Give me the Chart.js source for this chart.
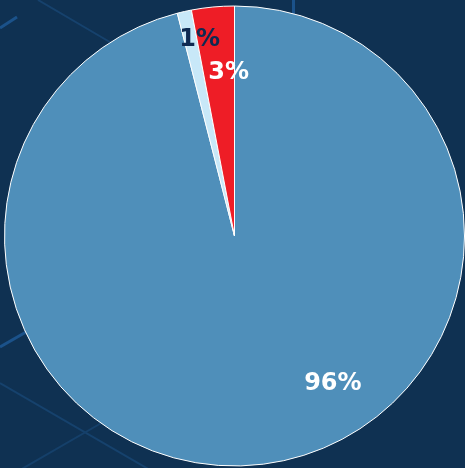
<!DOCTYPE html>
<html>
<head>
<meta charset="utf-8">
<script src="https://cdn.jsdelivr.net/npm/chart.js@4/dist/chart.umd.min.js"></script>
<style>
  html, body { margin: 0; padding: 0; background: #0f3152; }
  #wrap { width: 465px; height: 468px; }
</style>
</head>
<body>
<div id="wrap"><canvas id="pie_chart"></canvas></div>
<script>
const categories = ['Azul', 'Celeste', 'Rojo'];
const shares = [96, 1, 3];
const sliceColors = ['#4f8fba', '#c8e8f8', '#ee1d26'];
const labelColors = ['#ffffff', '#0f2a52', '#ffffff'];

// where each percentage sits: angle clockwise from 12 o'clock, and fraction of the radius
const labelSpots = [
    { angle: 146, dist: 0.765 },
    { angle: 350, dist: 0.875 },
    { angle: 358, dist: 0.72 }
];

// faint diagonal strokes behind the pie
const backdrop = {
    id: 'backdrop',
    beforeDraw(chart) {
        const c = chart.ctx;
        c.save();
        c.fillStyle = '#0f3152';
        c.fillRect(0, 0, chart.width, chart.height);
        c.lineCap = 'butt';
        const strokes = [
            { pts: [0, 28, 17, 17], color: '#1b528a', w: 3 },
            { pts: [38, 0, 120, 48], color: '#16426d', w: 2 },
            { pts: [0, 347, 40, 324], color: '#1b528a', w: 3 },
            { pts: [0, 383, 150, 470], color: '#16426d', w: 2 },
            { pts: [20, 470, 110, 418], color: '#15406a', w: 2 },
            { pts: [293.5, 0, 293.5, 14], color: '#1b528a', w: 3 }
        ];
        strokes.forEach(s => {
            c.strokeStyle = s.color;
            c.lineWidth = s.w;
            c.beginPath();
            c.moveTo(s.pts[0], s.pts[1]);
            c.lineTo(s.pts[2], s.pts[3]);
            c.stroke();
        });
        c.restore();
    }
};

const percentLabels = {
    id: 'percentLabels',
    afterDatasetsDraw(chart) {
        const c = chart.ctx;
        const arcs = chart.getDatasetMeta(0).data;
        c.save();
        c.font = 'bold 24px "DejaVu Sans"';
        c.textAlign = 'center';
        c.textBaseline = 'middle';
        arcs.forEach((arc, i) => {
            const spot = labelSpots[i];
            const a = (spot.angle - 90) * Math.PI / 180;
            const r = arc.outerRadius * spot.dist;
            c.fillStyle = labelColors[i];
            c.fillText(shares[i] + '%', arc.x + Math.cos(a) * r, arc.y + Math.sin(a) * r + 2);
        });
        c.restore();
    }
};

new Chart(document.getElementById('pie_chart').getContext('2d'), {
    type: 'pie',
    data: {
        labels: categories,
        datasets: [{
            data: shares,
            backgroundColor: sliceColors,
            borderColor: '#ffffff',
            borderWidth: 1,
            hoverOffset: 0
        }]
    },
    options: {
        responsive: true,
        maintainAspectRatio: false,
        animation: false,
        layout: { padding: { left: 4, top: 5, right: 0, bottom: 1 } },
        plugins: {
            legend: { display: false },
            tooltip: { enabled: false }
        }
    },
    plugins: [backdrop, percentLabels]
});
</script>
</body>
</html>
